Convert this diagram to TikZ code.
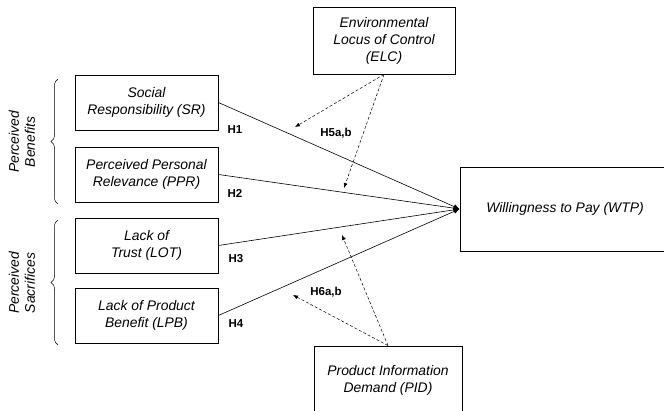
\documentclass[tikz,border=0pt]{standalone}
\usepackage{fontspec}
\setmainfont{Liberation Sans}
\usetikzlibrary{arrows.meta,decorations.pathreplacing}

\begin{document}
\begin{tikzpicture}[x=1pt,y=-1pt,
    construct/.style={draw, line width=0.8pt, align=center, inner sep=0pt,
      font=\fontsize{13.9}{17}\selectfont\itshape},
    side/.style={align=center, rotate=90, font=\fontsize{13.9}{16}\selectfont\itshape},
    hyp/.style={font=\fontsize{11.5}{13}\selectfont\bfseries},
    effect/.style={line width=0.6pt, -{Latex[length=6pt,width=5pt]}},
    moderator/.style={line width=0.5pt, dash pattern=on 3pt off 2pt, -{Latex[length=5pt,width=4pt]}}]
  \useasboundingbox (0,0) rectangle (664,411);
  \clip (0,0) rectangle (664,411);

  % antecedents
  \node[construct, minimum width=143pt, minimum height=55pt] (SR) at (146.5,102.5) {Social\\Responsibility (SR)};
  \node[construct, minimum width=143pt, minimum height=55pt] (PPR) at (146.5,174.5) {Perceived Personal\\Relevance (PPR)};
  \node[construct, minimum width=143pt, minimum height=55pt] (LOT) at (146.5,245.5) {Lack of\\Trust (LOT)};
  \node[construct, minimum width=143pt, minimum height=55pt] (LPB) at (146.5,315.5) {Lack of Product\\Benefit (LPB)};

  % outcome and moderators
  \node[construct, minimum width=210pt, minimum height=84pt] (WTP) at (565,209) {Willingness to Pay (WTP)};
  \node[construct, minimum width=142pt, minimum height=67pt] (ELC) at (384,40.5) {Environmental\\Locus of Control\\(ELC)};
  \node[construct, minimum width=148pt, minimum height=68pt] (PID) at (388,380) {Product Information\\Demand (PID)};

  % groups
  \draw[decorate, decoration={brace, amplitude=7pt}, line width=0.5pt] (58,204) -- (58,79);
  \draw[decorate, decoration={brace, amplitude=7pt}, line width=0.5pt] (58,345) -- (58,220);
  \node[side] (benefits) at (22,142) {Perceived\\Benefits};
  \node[side] (sacrifices) at (22,283) {Perceived\\Sacrifices};

  % direct effects
  \draw[effect] (SR.east) -- (WTP.west);
  \draw[effect] (PPR.east) -- (WTP.west);
  \draw[effect] (LOT.east) -- (WTP.west);
  \draw[effect] (LPB.east) -- (WTP.west);
  \node[hyp] (H1) at (235,130) {H1};
  \node[hyp] (H2) at (235,193) {H2};
  \node[hyp] (H3) at (236,259) {H3};
  \node[hyp] (H4) at (236,324) {H4};

  % moderating effects
  \coordinate (m5a) at (295,127);
  \coordinate (m5b) at (344,188);
  \coordinate (m6a) at (342,235);
  \coordinate (m6b) at (293,295);
  \draw[moderator] (ELC.south) -- (m5a);
  \draw[moderator] (ELC.south) -- (m5b);
  \draw[moderator] (PID.north) -- (m6a);
  \draw[moderator] (PID.north) -- (m6b);
  \node[hyp] (H5) at (336,133) {H5a,b};
  \node[hyp] (H6) at (326,292) {H6a,b};
\end{tikzpicture}
\end{document}
